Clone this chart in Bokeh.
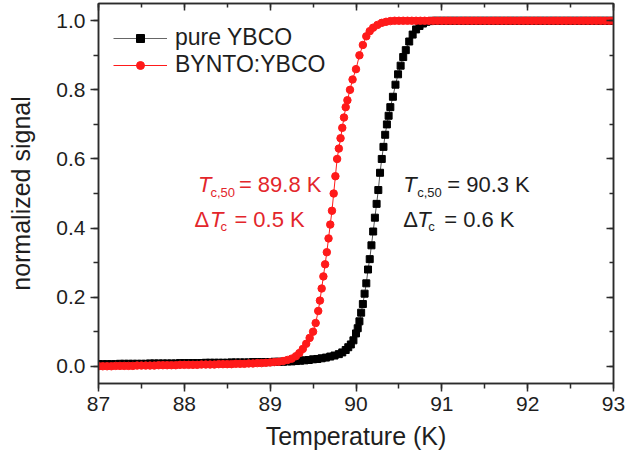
from bokeh.plotting import figure
from bokeh.models import LinearAxis, Range1d, SingleIntervalTicker, Legend, CustomJSTickFormatter
from bokeh.core.properties import value
from bokeh.embed import file_html
from bokeh.resources import INLINE

# ---------------- data ----------------
pure_T = [87.00, 87.05, 87.10, 87.15, 87.20, 87.25, 87.30, 87.35, 87.40, 87.45,
          87.50, 87.55, 87.60, 87.65, 87.70, 87.75, 87.80, 87.85, 87.90, 87.95,
          88.00, 88.05, 88.10, 88.15, 88.20, 88.25, 88.30, 88.35, 88.40, 88.45,
          88.50, 88.55, 88.60, 88.65, 88.70, 88.75, 88.80, 88.85, 88.90, 88.95,
          89.00, 89.05, 89.10, 89.15, 89.20, 89.25, 89.30, 89.35, 89.40, 89.45,
          89.50, 89.55, 89.60, 89.65, 89.70, 89.75, 89.80, 89.84, 89.88, 89.91,
          89.94, 89.97, 90.00, 90.02, 90.04, 90.06, 90.08, 90.10, 90.12, 90.14,
          90.16, 90.18, 90.20, 90.22, 90.24, 90.26, 90.28, 90.30, 90.32, 90.34,
          90.36, 90.38, 90.40, 90.43, 90.46, 90.49, 90.52, 90.55, 90.58, 90.62,
          90.66, 90.70, 90.74, 90.78, 90.82, 90.86, 90.90, 90.95, 91.00, 91.05,
          91.10, 91.15, 91.20, 91.25, 91.30, 91.35, 91.40, 91.45, 91.50, 91.55,
          91.60, 91.65, 91.70, 91.75, 91.80, 91.85, 91.90, 91.95, 92.00, 92.05,
          92.10, 92.15, 92.20, 92.25, 92.30, 92.35, 92.40, 92.45, 92.50, 92.55,
          92.60, 92.65, 92.70, 92.75, 92.80, 92.85, 92.90, 92.95, 93.00]
pure_signal = [0.006, 0.006, 0.006, 0.006, 0.006, 0.007, 0.007, 0.007, 0.007, 0.007,
               0.007, 0.007, 0.008, 0.008, 0.008, 0.008, 0.008, 0.008, 0.008, 0.009,
               0.009, 0.009, 0.009, 0.009, 0.009, 0.010, 0.010, 0.010, 0.010, 0.010,
               0.010, 0.011, 0.011, 0.011, 0.011, 0.011, 0.012, 0.012, 0.012, 0.012,
               0.012, 0.013, 0.013, 0.013, 0.014, 0.014, 0.015, 0.016, 0.017, 0.018,
               0.020, 0.021, 0.023, 0.025, 0.028, 0.031, 0.035, 0.040, 0.047, 0.055,
               0.063, 0.075, 0.095, 0.110, 0.130, 0.155, 0.180, 0.210, 0.240, 0.280,
               0.310, 0.350, 0.390, 0.430, 0.470, 0.510, 0.560, 0.600, 0.635, 0.670,
               0.700, 0.725, 0.750, 0.780, 0.815, 0.845, 0.870, 0.895, 0.915, 0.940,
               0.960, 0.975, 0.985, 0.992, 0.997, 0.999, 1.000, 1.000, 1.000, 1.000,
               1.000, 1.000, 1.000, 1.000, 1.000, 1.000, 1.000, 1.000, 1.000, 1.000,
               1.000, 1.000, 1.000, 1.000, 1.000, 1.000, 1.000, 1.000, 1.000, 1.000,
               1.000, 1.000, 1.000, 1.000, 1.000, 1.000, 1.000, 1.000, 1.000, 1.000,
               1.000, 1.000, 1.000, 1.000, 1.000, 1.000, 1.000, 1.000, 1.000]

bynto_T = [87.00, 87.05, 87.10, 87.15, 87.20, 87.25, 87.30, 87.35, 87.40, 87.45,
           87.50, 87.55, 87.60, 87.65, 87.70, 87.75, 87.80, 87.85, 87.90, 87.95,
           88.00, 88.05, 88.10, 88.15, 88.20, 88.25, 88.30, 88.35, 88.40, 88.45,
           88.50, 88.55, 88.60, 88.65, 88.70, 88.75, 88.80, 88.85, 88.90, 88.95,
           89.00, 89.05, 89.10, 89.15, 89.20, 89.25, 89.30, 89.34, 89.38, 89.42,
           89.46, 89.50, 89.53, 89.56, 89.58, 89.60, 89.62, 89.64, 89.66, 89.68,
           89.70, 89.72, 89.74, 89.76, 89.78, 89.80, 89.82, 89.84, 89.86, 89.88,
           89.90, 89.93, 89.96, 90.00, 90.04, 90.08, 90.12, 90.16, 90.20, 90.25,
           90.30, 90.35, 90.40, 90.45, 90.50, 90.55, 90.60, 90.65, 90.70, 90.75,
           90.80, 90.85, 90.90, 90.95, 91.00, 91.05, 91.10, 91.15, 91.20, 91.25,
           91.30, 91.35, 91.40, 91.45, 91.50, 91.55, 91.60, 91.65, 91.70, 91.75,
           91.80, 91.85, 91.90, 91.95, 92.00, 92.05, 92.10, 92.15, 92.20, 92.25,
           92.30, 92.35, 92.40, 92.45, 92.50, 92.55, 92.60, 92.65, 92.70, 92.75,
           92.80, 92.85, 92.90, 92.95, 93.00]
bynto_signal = [0.000, 0.000, 0.000, 0.000, 0.001, 0.001, 0.001, 0.001, 0.001, 0.002,
                0.002, 0.002, 0.002, 0.002, 0.003, 0.003, 0.003, 0.003, 0.003, 0.004,
                0.004, 0.004, 0.004, 0.004, 0.005, 0.005, 0.005, 0.005, 0.006, 0.006,
                0.006, 0.006, 0.007, 0.007, 0.007, 0.008, 0.008, 0.009, 0.009, 0.010,
                0.011, 0.012, 0.013, 0.015, 0.018, 0.022, 0.029, 0.038, 0.050, 0.065,
                0.082, 0.100, 0.125, 0.160, 0.190, 0.225, 0.260, 0.295, 0.330, 0.370,
                0.410, 0.450, 0.500, 0.550, 0.600, 0.630, 0.660, 0.690, 0.720, 0.750,
                0.770, 0.800, 0.830, 0.860, 0.900, 0.930, 0.955, 0.970, 0.980, 0.988,
                0.994, 0.997, 0.999, 1.000, 1.000, 1.000, 1.000, 1.000, 1.000, 1.000,
                1.000, 1.000, 1.000, 1.000, 1.000, 1.000, 1.000, 1.000, 1.000, 1.000,
                1.000, 1.000, 1.000, 1.000, 1.000, 1.000, 1.000, 1.000, 1.000, 1.000,
                1.000, 1.000, 1.000, 1.000, 1.000, 1.000, 1.000, 1.000, 1.000, 1.000,
                1.000, 1.000, 1.000, 1.000, 1.000, 1.000, 1.000, 1.000, 1.000, 1.000,
                1.000, 1.000, 1.000, 1.000, 1.000]

series_labels = ["pure YBCO", "BYNTO:YBCO"]
red_tc50 = "= 89.8 K"
red_dtc = "= 0.5 K"
black_tc50 = "= 90.3 K"
black_dtc = "= 0.6 K"

# ---------------- figure ----------------
FONT = "Liberation Sans"
AX = "#2b2b2b"
RED = "#ff1a1a"
RED_TXT = "#e3262b"
TXT = "#1e1e1e"

p = figure(width=628, height=459, output_backend="svg", toolbar_location=None,
           x_range=Range1d(87, 93), y_range=Range1d(-0.05, 1.05),
           min_border_left=98, min_border_right=15, min_border_top=3,
           min_border_bottom=76, x_axis_label="Temperature (K)",
           y_axis_label="normalized signal")
p.grid.visible = False
p.outline_line_color = AX
p.outline_line_width = 1.5
p.background_fill_color = "white"
p.border_fill_color = "white"

for ax in (p.xaxis[0], p.yaxis[0]):
    ax.axis_line_color = AX
    ax.axis_line_width = 1.5
    ax.major_tick_line_color = AX
    ax.minor_tick_line_color = AX
    ax.major_tick_line_width = 1.5
    ax.minor_tick_line_width = 1.5
    ax.major_tick_out = 8
    ax.major_tick_in = 0
    ax.minor_tick_out = 5
    ax.minor_tick_in = 0
    ax.major_label_text_font = FONT
    ax.major_label_text_font_size = "21px"
    ax.major_label_text_color = TXT
    ax.axis_label_text_font = FONT
    ax.axis_label_text_font_size = "25px"
    ax.axis_label_text_font_style = "normal"
    ax.axis_label_text_color = TXT
    ax.major_label_standoff = 5

p.xaxis[0].ticker = SingleIntervalTicker(interval=1, num_minor_ticks=2)
p.yaxis[0].ticker = SingleIntervalTicker(interval=0.2, num_minor_ticks=2)
p.yaxis[0].formatter = CustomJSTickFormatter(code="return tick.toFixed(1);")
p.xaxis[0].axis_label_standoff = 8
p.yaxis[0].axis_label_standoff = 18

# mirrored axes with inward ticks and no labels
top = LinearAxis(ticker=SingleIntervalTicker(interval=1, num_minor_ticks=2),
                 formatter=CustomJSTickFormatter(code="return '';"))
right = LinearAxis(ticker=SingleIntervalTicker(interval=0.2, num_minor_ticks=2),
                   formatter=CustomJSTickFormatter(code="return '';"))
for ax in (top, right):
    ax.axis_line_color = AX
    ax.axis_line_width = 1.5
    ax.major_tick_line_color = AX
    ax.minor_tick_line_color = AX
    ax.major_tick_line_width = 1.5
    ax.minor_tick_line_width = 1.5
    ax.major_tick_in = 7
    ax.major_tick_out = 0
    ax.minor_tick_in = 4
    ax.minor_tick_out = 0
    ax.major_label_standoff = 0
p.add_layout(top, "above")
p.add_layout(right, "right")

# legend proxies (smaller markers, as in the reference legend); they sit
# on the first data points and are covered by the full-size markers
lg_bl = p.line(pure_T[:2], pure_signal[:2], line_color="#666666", line_width=1)
lg_bs = p.scatter(pure_T[:1], pure_signal[:1], marker="square", size=5,
                  fill_color="black", line_color="black")
lg_rl = p.line(bynto_T[:2], bynto_signal[:2], line_color=RED, line_width=1)
lg_rs = p.scatter(bynto_T[:1], bynto_signal[:1], marker="circle", size=7,
                  fill_color=RED, line_color=RED)

# ---------------- data glyphs ----------------
p.line(pure_T, pure_signal, line_color="#555555", line_width=1)
p.scatter(pure_T, pure_signal, marker="square", size=7,
          fill_color="black", line_color="black")
p.line(bynto_T, bynto_signal, line_color=RED, line_width=1)
p.scatter(bynto_T, bynto_signal, marker="circle", size=7.5,
          fill_color=RED, line_color=RED)

legend = Legend(items=[(series_labels[0], [lg_bl, lg_bs]),
                       (series_labels[1], [lg_rl, lg_rs])],
                location=(15, 305))
legend.label_text_font = FONT
legend.label_text_font_size = "23px"
legend.label_text_color = TXT
legend.glyph_width = 54
legend.glyph_height = 20
legend.label_height = 20
legend.spacing = -5
legend.padding = 0
legend.margin = 0
legend.label_standoff = 8
legend.background_fill_alpha = 0
legend.border_line_color = None
p.add_layout(legend, "center")

# ---------------- annotations ----------------
def annot(x, y, parts, color):
    for txt, dx, dy, size, style in parts:
        p.text(x=[x], y=[y], text=[txt], x_offset=dx, y_offset=dy,
               text_font=value(FONT), text_font_size=size,
               text_font_style=style, text_color=color,
               text_baseline="alphabetic", text_align="left")

annot(88.158, 0.525, [("T", 0, 0, "22px", "italic"),
                      ("c,50", 12.5, 8, "13px", "normal"),
                      (red_tc50, 41, 0, "22px", "normal")], RED_TXT)
annot(88.158, 0.424, [("\u0394", -3.5, 0, "22px", "normal"),
                      ("T", 12, 0, "22px", "italic"),
                      ("c", 22.5, 7, "13px", "normal"),
                      (red_dtc, 36.5, 0, "22px", "normal")], RED_TXT)
annot(90.55, 0.525, [("T", 0, 0, "22px", "italic"),
                     ("c,50", 14, 8, "13px", "normal"),
                     (black_tc50, 44, 0, "22px", "normal")], TXT)
annot(90.55, 0.424, [("\u0394", 0, 0, "22px", "normal"),
                     ("T", 14, 0, "22px", "italic"),
                     ("c", 25, 7, "13px", "normal"),
                     (black_dtc, 41, 0, "22px", "normal")], TXT)

open("out.html", "w").write(file_html(p, INLINE))
